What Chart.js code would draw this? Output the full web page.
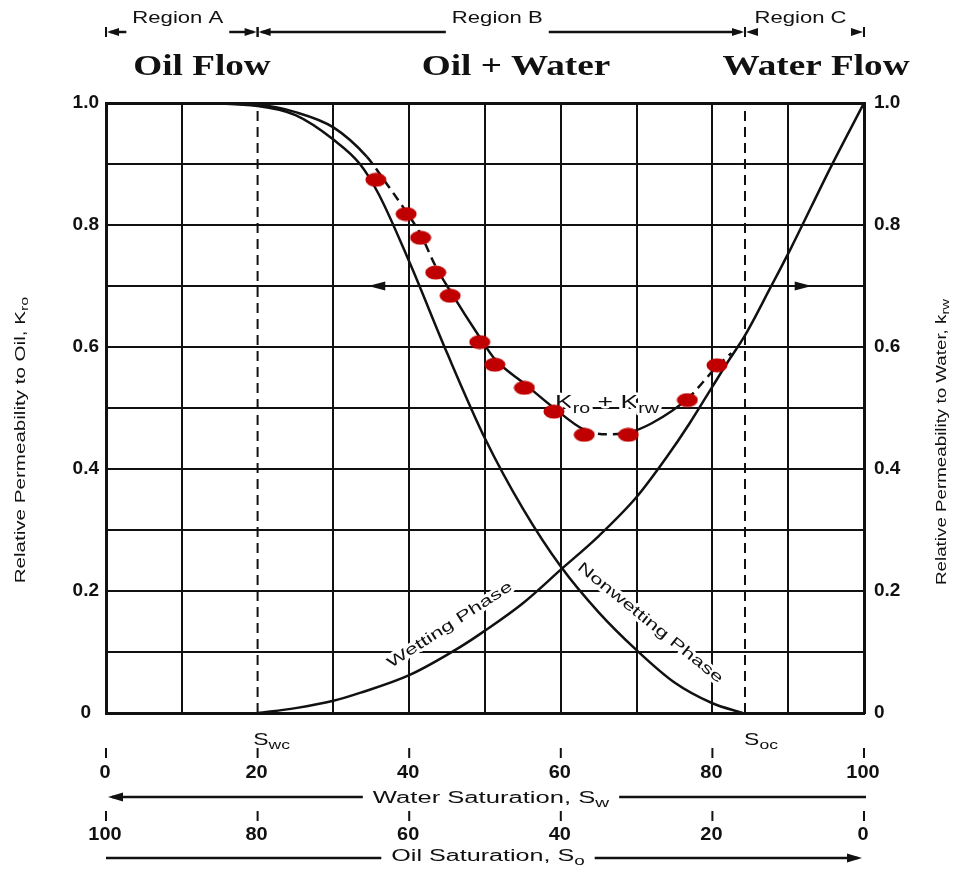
<!DOCTYPE html>
<html>
<head>
<meta charset="utf-8">
<title>Relative permeability curves</title>
<script src="https://cdn.jsdelivr.net/npm/chart.js@4.4.1/dist/chart.umd.min.js"></script>
<style>
  html, body { margin: 0; padding: 0; background: #fff; }
  canvas { display: block; }
</style>
</head>
<body>
<canvas id="permChart" width="958" height="872"></canvas>
<script>
// water saturation (%) and relative permeability
const kroX = [0, 10, 20, 25, 30, 33.5, 36, 40, 45, 50, 55, 60, 65, 70, 75, 80, 84];
const kroY = [1, 1, 0.995, 0.98, 0.94, 0.9, 0.85, 0.74, 0.59, 0.45, 0.335, 0.24, 0.165, 0.103, 0.05, 0.016, 0];

const krwX = [20, 25, 30, 33.5, 40, 46.7, 50, 55, 60, 65, 70, 74, 77, 80, 82, 84.3, 87.6, 90.4, 95.7, 100];
const krwY = [0, 0.008, 0.02, 0.033, 0.062, 0.108, 0.135, 0.18, 0.235, 0.29, 0.354, 0.42, 0.475, 0.535, 0.575, 0.619, 0.696, 0.763, 0.897, 1.0];

const sumX = [0, 10, 20, 25, 30, 34.4, 37, 39.6, 41.5, 43.5, 45.4, 49.3, 51.3, 55.2, 59.1, 63, 66, 69, 72, 76.7, 80.6, 82.5];
const sumY = [1, 1, 0.997, 0.985, 0.96, 0.912, 0.868, 0.822, 0.785, 0.732, 0.692, 0.616, 0.58, 0.54, 0.5, 0.465, 0.457, 0.46, 0.475, 0.515, 0.568, 0.59];

const dotX = [35.6, 39.6, 41.5, 43.5, 45.4, 49.3, 51.3, 55.2, 59.1, 63.1, 68.9, 76.7, 80.6];
const dotY = [0.874, 0.818, 0.779, 0.722, 0.684, 0.608, 0.571, 0.533, 0.494, 0.456, 0.456, 0.513, 0.570];

const swc = 20;
const soc = 84.3;

const regionNames = ['Region A', 'Region B', 'Region C'];
const regionBounds = [0, swc, soc, 100];
const flowNames = ['Oil Flow', 'Oil + Water', 'Water Flow'];

const yTickValues = [0, 0.2, 0.4, 0.6, 0.8, 1.0];
const yTickLabels = ['0', '0.2', '0.4', '0.6', '0.8', '1.0'];
const swTicks = [0, 20, 40, 60, 80, 100];
const swTickLabels = ['0', '20', '40', '60', '80', '100'];
const soTickLabels = ['100', '80', '60', '40', '20', '0'];

const ink = '#111';
const dotColor = '#c00000';

function pts(xs, ys) {
    return xs.map((v, i) => ({ x: v, y: ys[i] }));
}

// oval marker, the library draws a canvas point style centred on the point
const oval = document.createElement('canvas');
oval.width = 22;
oval.height = 15;
{
    const c = oval.getContext('2d');
    c.fillStyle = dotColor;
    c.beginPath();
    c.ellipse(11, 7.5, 10.5, 7, 0, 0, Math.PI * 2);
    c.fill();
}

// text with optional subscripts, stretched along its direction like the scan
function rich(ctx, parts, x, y, o) {
    const size = o.size || 15;
    const sx = o.sx || 1;
    const family = o.family || '"Liberation Sans"';
    const main = (o.bold ? 'bold ' : '') + size + 'px ' + family;
    const sub = Math.round(size * 0.75) + 'px ' + family;
    ctx.save();
    ctx.translate(x, y);
    if (o.angle) ctx.rotate(o.angle * Math.PI / 180);
    ctx.scale(sx, 1);
    let w = 0;
    parts.forEach(([t, s]) => {
        ctx.font = main; w += ctx.measureText(t).width;
        if (s) { ctx.font = sub; w += ctx.measureText(s).width; }
    });
    let cx = o.align === 'left' ? 0 : o.align === 'right' ? -w : -w / 2;
    ctx.textAlign = 'left';
    ctx.textBaseline = 'middle';
    ctx.lineJoin = 'round';
    ctx.strokeStyle = '#fff';
    ctx.lineWidth = o.halo || 0;
    parts.forEach(([t, s]) => {
        ctx.font = main;
        if (o.halo) ctx.strokeText(t, cx, 0);
        ctx.fillText(t, cx, 0);
        cx += ctx.measureText(t).width;
        if (s) {
            ctx.font = sub;
            if (o.halo) ctx.strokeText(s, cx, size * 0.3);
            ctx.fillText(s, cx, size * 0.3);
            cx += ctx.measureText(s).width;
        }
    });
    ctx.restore();
    return w * sx;
}

function arrowHead(ctx, x, y, dir, len, half) {
    ctx.beginPath();
    ctx.moveTo(x, y);
    ctx.lineTo(x - dir * len, y - half);
    ctx.lineTo(x - dir * len, y + half);
    ctx.closePath();
    ctx.fill();
}

function hline(ctx, x0, x1, yy, w) {
    ctx.lineWidth = w;
    ctx.beginPath();
    ctx.moveTo(x0, yy);
    ctx.lineTo(x1, yy);
    ctx.stroke();
}

function vline(ctx, xx, y0, y1, w) {
    ctx.lineWidth = w;
    ctx.beginPath();
    ctx.moveTo(xx, y0);
    ctx.lineTo(xx, y1);
    ctx.stroke();
}

const overlay = {
    id: 'overlay',
    beforeDatasetsDraw(chart) {
        const ctx = chart.ctx;
        ctx.save();
        ctx.fillStyle = ink;
        rich(ctx, [['Wetting Phase']], 450, 625, { size: 15, sx: 1.5, angle: -33, halo: 6 });
        rich(ctx, [['Nonwetting Phase']], 650, 623, { size: 15, sx: 1.5, angle: 39, halo: 6 });
        rich(ctx, [['K', 'ro'], [' + K', 'rw']], 607, 403, { size: 19, sx: 1.4, halo: 5 });
        ctx.restore();
    },
    afterDraw(chart) {
        const { ctx, scales: { x, y } } = chart;
        ctx.save();
        ctx.fillStyle = ink;
        ctx.strokeStyle = ink;

        // arrows telling which axis each curve belongs to
        const y7 = y.getPixelForValue(0.7);
        arrowHead(ctx, x.getPixelForValue(34.6), y7, -1, 17, 4.5);
        arrowHead(ctx, x.getPixelForValue(93.1), y7, 1, 17, 4.5);

        // regions along the top
        const ty = 32;
        regionNames.forEach((name, i) => {
            const p0 = x.getPixelForValue(regionBounds[i]);
            const p1 = x.getPixelForValue(regionBounds[i + 1]);
            const cx = (p0 + p1) / 2 - 4;
            const tw = rich(ctx, [[name]], cx, 18, { size: 17, sx: 1.3 });
            ctx.strokeStyle = ink;
            if (cx - tw / 2 - 6 > p0 + 12) hline(ctx, p0 + 4, cx - tw / 2 - 6, ty, 2.5);
            if (cx + tw / 2 + 6 < p1 - 12) hline(ctx, cx + tw / 2 + 6, p1 - 4, ty, 2.5);
            arrowHead(ctx, p0 + 1, ty, -1, 12, 4);
            arrowHead(ctx, p1 - 1, ty, 1, 12, 4);
            vline(ctx, p0, ty - 5, ty + 5, 2);
            vline(ctx, p1, ty - 5, ty + 5, 2);
        });
        const flowAt = [202, 516, 816];
        flowNames.forEach((name, i) => {
            rich(ctx, [[name]], flowAt[i], 67, { size: 30, sx: 1.24, bold: true, family: '"Liberation Serif"' });
        });

        // critical saturations
        rich(ctx, [['S', 'wc']], x.getPixelForValue(swc) + 14, 740, { size: 17, sx: 1.35 });
        rich(ctx, [['S', 'oc']], x.getPixelForValue(soc) + 16, 740, { size: 17, sx: 1.35 });

        // two saturation scales under the plot
        swTicks.forEach((v, i) => {
            const px = x.getPixelForValue(v);
            vline(ctx, px, 748, 758, 2);
            rich(ctx, [[swTickLabels[i]]], px - 1, 773, { size: 19, bold: true, sx: 1.05 });
            vline(ctx, px, 811, 821, 2);
            rich(ctx, [[soTickLabels[i]]], px - 1, 835, { size: 19, bold: true, sx: 1.05 });
        });
        const x0 = x.getPixelForValue(0), x100 = x.getPixelForValue(100);
        let w = rich(ctx, [['Water Saturation, S', 'w']], 491, 799, { size: 16, sx: 1.6 });
        hline(ctx, x0 + 6, 491 - w / 2 - 10, 797, 2.5);
        hline(ctx, 491 + w / 2 + 10, x100 + 2, 797, 2.5);
        arrowHead(ctx, x0 + 2, 797, -1, 15, 4.5);
        w = rich(ctx, [['Oil Saturation, S', 'o']], 488, 857, { size: 16, sx: 1.57 });
        hline(ctx, x0, 488 - w / 2 - 10, 858, 2.5);
        hline(ctx, 488 + w / 2 + 10, x100 - 6, 858, 2.5);
        arrowHead(ctx, x100 - 2, 858, 1, 15, 4.5);

        // axis titles
        rich(ctx, [['Relative Permeability to Oil, K', 'ro']], 21, 440, { size: 14, sx: 1.47, angle: -90 });
        rich(ctx, [['Relative Permeability to Water, k', 'rw']], 942, 442, { size: 14, sx: 1.34, angle: -90 });
        ctx.restore();
    }
};

function dashedPart(c) {
    const a = c.p0.parsed.x, b = c.p1.parsed.x;
    const m = (a + b) / 2;
    return (m > 34.4 && m < 43.5) || (m > 63 && m < 69) || (m > 76.7 && m < 83);
}

const curve = {
    borderColor: ink,
    borderWidth: 2.5,
    pointRadius: 0,
    cubicInterpolationMode: 'monotone',
    fill: false
};

new Chart(document.getElementById('permChart'), {
    type: 'line',
    data: {
        datasets: [
            { label: 'dots', data: pts(dotX, dotY), showLine: false, pointStyle: oval, pointRadius: 10, yAxisID: 'y' },
            Object.assign({ label: 'Kro + Krw', data: pts(sumX, sumY), yAxisID: 'y',
                segment: { borderDash: c => dashedPart(c) ? [9, 6] : undefined } }, curve),
            Object.assign({ label: 'Kro (nonwetting)', data: pts(kroX, kroY), yAxisID: 'y' }, curve),
            Object.assign({ label: 'Krw (wetting)', data: pts(krwX, krwY), yAxisID: 'y2' }, curve),
            { label: 'Swc', data: [{ x: swc, y: 0 }, { x: swc, y: 1 }], borderColor: ink, borderWidth: 2, borderDash: [10, 6], pointRadius: 0, yAxisID: 'y' },
            { label: 'Soc', data: [{ x: soc, y: 0 }, { x: soc, y: 1 }], borderColor: ink, borderWidth: 2, borderDash: [10, 6], pointRadius: 0, yAxisID: 'y' }
        ]
    },
    options: {
        responsive: false,
        animation: false,
        devicePixelRatio: 1,
        layout: { padding: { top: 103, bottom: 159, left: 0, right: 0 } },
        plugins: { legend: { display: false }, tooltip: { enabled: false } },
        scales: {
            x: {
                type: 'linear', min: 0, max: 100,
                ticks: { stepSize: 10, display: false },
                grid: { color: c => c.tick && c.tick.value === swc ? 'rgba(0,0,0,0)' : ink, lineWidth: 2, drawTicks: false },
                border: { color: ink, width: 3 },
                afterFit: s => { s.height = 0; }
            },
            y: {
                position: 'left', min: 0, max: 1,
                ticks: {
                    stepSize: 0.1, padding: 7, crossAlign: 'center', color: ink,
                    font: { family: '"Liberation Sans"', size: 19, weight: 'bold' },
                    callback: v => { const i = yTickValues.findIndex(t => Math.abs(t - v) < 1e-6); return i >= 0 ? yTickLabels[i] : ''; }
                },
                grid: { color: ink, lineWidth: c => c.tick && Math.abs(c.tick.value - 1) < 1e-6 ? 3 : 2, drawTicks: false },
                border: { color: ink, width: 3 },
                afterFit: s => { s.width = 106; }
            },
            y2: {
                position: 'right', min: 0, max: 1,
                ticks: {
                    stepSize: 0.1, padding: 10, crossAlign: 'near', color: ink,
                    font: { family: '"Liberation Sans"', size: 19, weight: 'bold' },
                    callback: v => { const i = yTickValues.findIndex(t => Math.abs(t - v) < 1e-6); return i >= 0 ? yTickLabels[i] : ''; }
                },
                grid: { drawOnChartArea: false, drawTicks: false },
                border: { color: ink, width: 3 },
                afterFit: s => { s.width = 94; }
            }
        }
    },
    plugins: [overlay]
});
</script>
</body>
</html>
